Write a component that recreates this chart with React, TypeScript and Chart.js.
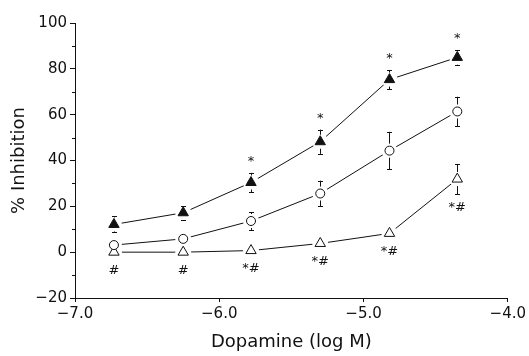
import React, { useEffect, useRef } from 'react';
import { Chart, registerables } from 'chart.js';

Chart.register(...registerables);

// ---- data ----
const doseLogM = [-6.73, -6.25, -5.78, -5.3, -4.82, -4.35];
const filledTriMean = [12.1, 17.2, 30.4, 48.2, 75.3, 85.0];
const filledTriSem = [3.5, 3.0, 4.2, 5.3, 4.2, 3.2];
const circleMean = [3.1, 5.8, 13.6, 25.6, 44.3, 61.4];
const circleSem = [0, 0, 3.9, 5.6, 8.2, 6.4];
const openTriMean = [0, 0, 0.7, 3.8, 8.2, 31.9];
const openTriSem = [0, 0, 0, 0, 0, 6.6];
const filledTriMarks = ['', '', '*', '*', '*', '*'];
const openTriMarks = ['#', '#', '*#', '*#', '*#', '*#'];
const xTickValues = [-7, -6, -5, -4];
const yMin = -20;
const yMax = 100;
const yStep = 10;
const yLabelStep = 20;
const xTitle = 'Dopamine (log M)';
const yTitle = '% Inhibition';

const FONT = '"DejaVu Sans", sans-serif';
const INK = '#111';

const fmtMinus = (s: string) => s.replace('-', '\u2212');

const pts = (ys: number[]) => doseLogM.map((x, i) => ({ x, y: ys[i] }));

const series = [
  { mean: filledTriMean, sem: filledTriSem, style: 'triangle', radius: 6, fill: INK },
  { mean: circleMean, sem: circleSem, style: 'circle', radius: 4.5, fill: '#fff' },
  { mean: openTriMean, sem: openTriSem, style: 'triangle', radius: 6, fill: '#fff' },
];

const extrasPlugin = {
  id: 'extras',
  afterDatasetsDraw(chart: any) {
    const ctx = chart.ctx as CanvasRenderingContext2D;
    const xs = chart.scales.x;
    const ys = chart.scales.y;
    ctx.save();
    ctx.strokeStyle = INK;
    ctx.fillStyle = INK;
    ctx.lineWidth = 1;
    // error bars
    series.forEach((s) => {
      doseLogM.forEach((x, i) => {
        const e = s.sem[i];
        if (!e) return;
        const cx = Math.round(xs.getPixelForValue(x)) + 0.5;
        const cy = ys.getPixelForValue(s.mean[i]);
        const top = ys.getPixelForValue(s.mean[i] + e);
        const bot = ys.getPixelForValue(s.mean[i] - e);
        const gap = 7;
        ctx.beginPath();
        if (top < cy - gap) {
          ctx.moveTo(cx, cy - gap);
          ctx.lineTo(cx, top);
        }
        ctx.moveTo(cx - 2.5, Math.round(top) + 0.5);
        ctx.lineTo(cx + 2.5, Math.round(top) + 0.5);
        if (bot > cy + gap) {
          ctx.moveTo(cx, cy + gap);
          ctx.lineTo(cx, bot);
        }
        ctx.moveTo(cx - 2.5, Math.round(bot) + 0.5);
        ctx.lineTo(cx + 2.5, Math.round(bot) + 0.5);
        ctx.stroke();
      });
    });
    // significance marks
    ctx.font = '13px ' + FONT;
    ctx.textAlign = 'center';
    ctx.textBaseline = 'middle';
    doseLogM.forEach((x, i) => {
      const cx = xs.getPixelForValue(x);
      if (filledTriMarks[i]) {
        const top = ys.getPixelForValue(filledTriMean[i] + filledTriSem[i]);
        ctx.fillText(filledTriMarks[i], cx, top - 11);
      }
      if (openTriMarks[i]) {
        const cy = ys.getPixelForValue(openTriMean[i]);
        const bot = ys.getPixelForValue(openTriMean[i] - openTriSem[i]);
        const ty = Math.max(cy + 18, bot + 13);
        ctx.fillText(openTriMarks[i], cx, ty);
      }
    });
    // minor y ticks
    const left = chart.chartArea.left;
    ctx.beginPath();
    for (let v = yMin; v <= yMax; v += yStep) {
      if (v % yLabelStep === 0) continue;
      const py = Math.round(ys.getPixelForValue(v)) + 0.5;
      ctx.moveTo(left - 3, py);
      ctx.lineTo(left, py);
    }
    ctx.stroke();
    ctx.restore();
  },
};

export default function App() {
  const ref = useRef<HTMLCanvasElement | null>(null);
  useEffect(() => {
    if (!ref.current) return;
    const datasets: any[] = [];
    series.forEach((s) => {
      datasets.push({
        data: pts(s.mean),
        showLine: true,
        borderColor: INK,
        borderWidth: 1,
        pointRadius: 0,
        order: 2,
      });
      datasets.push({
        data: pts(s.mean),
        showLine: false,
        pointRadius: 8,
        pointStyle: 'circle',
        pointBackgroundColor: '#fff',
        pointBorderColor: 'rgba(0,0,0,0)',
        pointBorderWidth: 0,
        order: 1,
      });
      datasets.push({
        data: pts(s.mean),
        showLine: false,
        pointStyle: s.style,
        pointRadius: s.radius,
        pointBackgroundColor: s.fill,
        pointBorderColor: INK,
        pointBorderWidth: 1,
        order: 0,
      });
    });
    const chart = new Chart(ref.current, {
      type: 'scatter',
      data: { datasets },
      options: {
        animation: false,
        responsive: false,
        maintainAspectRatio: false,
        events: [],
        layout: { padding: { top: 23, right: 20, left: 0, bottom: 0 } },
        plugins: { legend: { display: false }, tooltip: { enabled: false } },
        scales: {
          x: {
            type: 'linear',
            min: -7,
            max: -4,
            afterFit: (s: any) => {
              s.height = 58;
            },
            afterBuildTicks: (s: any) => {
              s.ticks = xTickValues.map((v) => ({ value: v }));
            },
            ticks: {
              autoSkip: false,
              maxRotation: 0,
              padding: 3,
              color: INK,
              font: { family: FONT, size: 15 },
              callback: (v: any) => fmtMinus(Number(v).toFixed(1)),
            },
            grid: {
              drawOnChartArea: false,
              drawTicks: true,
              tickLength: 4,
              tickColor: INK,
              color: INK,
            },
            border: { display: true, color: INK, width: 1 },
            title: {
              display: true,
              text: xTitle,
              color: INK,
              font: { family: FONT, size: 18 },
              padding: { top: 0, bottom: 3 },
            },
          },
          y: {
            type: 'linear',
            min: yMin,
            max: yMax,
            afterFit: (s: any) => {
              s.width = 75;
            },
            ticks: {
              stepSize: yStep,
              autoSkip: false,
              padding: 3,
              color: INK,
              font: { family: FONT, size: 15 },
              callback: (v: any) => (Number(v) % yLabelStep === 0 ? fmtMinus(String(v)) : ''),
            },
            grid: {
              drawOnChartArea: false,
              drawTicks: true,
              tickLength: 5,
              color: INK,
              tickColor: (c: any) =>
                c.tick && Math.round(c.tick.value) % yLabelStep !== 0 ? 'rgba(0,0,0,0)' : INK,
            },
            border: { display: true, color: INK, width: 1 },
            title: {
              display: true,
              text: yTitle,
              color: INK,
              font: { family: FONT, size: 18 },
              padding: { top: 9, bottom: 0 },
            },
          },
        },
      },
      plugins: [extrasPlugin],
    } as any);
    return () => chart.destroy();
  }, []);
  return (
    <div style={{ position: 'absolute', left: 0, top: 0, width: 529, height: 356, background: '#fff' }}>
      <canvas ref={ref} width={529} height={356} style={{ display: 'block' }} />
    </div>
  );
}
